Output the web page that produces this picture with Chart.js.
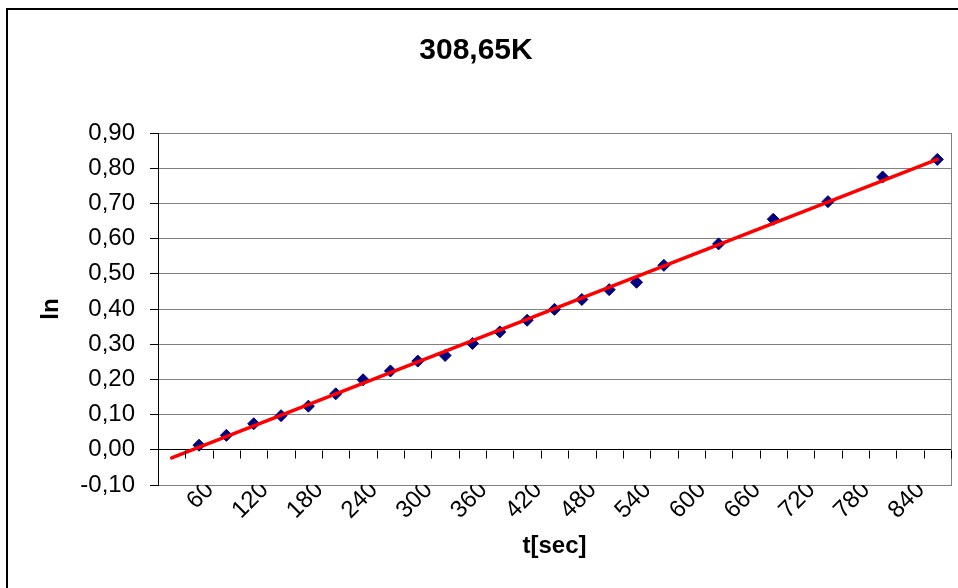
<!DOCTYPE html>
<html>
<head>
<meta charset="utf-8">
<script src="https://cdn.jsdelivr.net/npm/chart.js@4.4.1/dist/chart.umd.min.js"></script>
<style>
body{margin:0;background:#fff;}
</style>
</head>
<body>
<canvas id="lnChart" width="958" height="588"></canvas>
<script>
// categories: time in seconds (one per category slot)
const tSec=[30,60,90,120,150,180,210,240,270,300,330,360,390,420,450,480,510,540,570,600,630,660,690,720,750,780,810,840,870];

// measured ln values (null = no reading in that slot)
const lnVals=[null,0.013,0.041,0.074,0.097,0.124,0.159,0.199,0.224,0.252,0.268,0.302,0.335,0.368,0.399,0.427,0.455,0.476,0.524,null,0.585,null,0.655,null,0.705,null,0.775,null,0.825];

// linear trendline ends (first and last slot)
const trendEnds=[-0.023,0.825];

const yTicks=[-0.1,0,0.1,0.2,0.3,0.4,0.5,0.6,0.7,0.8,0.9];

const FONT="'Liberation Sans', Arial, sans-serif";

let trendData=tSec.map(()=>null);
trendData[0]=trendEnds[0];
trendData[tSec.length-1]=trendEnds[1];

const framePlugin={
id:"frame",
beforeDraw(chart){
let ctx=chart.ctx;
ctx.save();
ctx.fillStyle="#fff";
ctx.fillRect(0,0,chart.width,chart.height);
ctx.strokeStyle="#000";
ctx.lineWidth=2;
ctx.strokeRect(7,9,1000,1000);
ctx.restore();
},
afterDraw(chart){
let ctx=chart.ctx;
let x=chart.scales.x;
let y=chart.scales.y;
let a=chart.chartArea;
ctx.save();
// right border of plot area
ctx.strokeStyle="#808080";
ctx.lineWidth=1;
ctx.beginPath();
ctx.moveTo(Math.round(a.right)+0.5,Math.round(a.top));
ctx.lineTo(Math.round(a.right)+0.5,Math.round(a.bottom)+1);
ctx.stroke();
// tick marks on zero line
let y0=Math.round(y.getPixelForValue(0))+0.5;
ctx.strokeStyle="#000";
ctx.beginPath();
for(let k=1;k<=tSec.length;k++){
let px;
if(k<tSec.length){
px=(x.getPixelForValue(k-1)+x.getPixelForValue(k))/2;
}else{
px=a.right;
}
px=Math.round(px)+0.5;
ctx.moveTo(px,y0);
ctx.lineTo(px,y0+8);
}
ctx.stroke();
ctx.restore();
}
};

new Chart(document.getElementById("lnChart"),{
type:"line",
data:{
labels:tSec,
datasets:[
{
label:"trend",
data:trendData,
borderColor:"#ff0000",
borderWidth:3.5,
pointRadius:0,
spanGaps:true,
tension:0,
borderCapStyle:"round"
},
{
label:"ln",
data:lnVals,
showLine:false,
pointStyle:"rectRot",
pointRadius:6,
pointBackgroundColor:"#000080",
pointBorderColor:"#000080",
pointBorderWidth:1
}
]
},
options:{
responsive:false,
animation:false,
devicePixelRatio:1,
layout:{padding:{left:0,right:6,top:0,bottom:0}},
plugins:{
legend:{display:false},
tooltip:{enabled:false},
title:{
display:true,
text:"308,65K",
color:"#000",
font:{family:FONT,size:30,weight:"bold"},
padding:{top:33,bottom:64}
}
},
scales:{
x:{
type:"category",
offset:true,
grid:{display:false,drawTicks:false,tickLength:0},
border:{display:false},
afterFit(scale){scale.height=103;},
ticks:{
autoSkip:false,
minRotation:45,
maxRotation:45,
labelOffset:11,
padding:-9,
color:"#000",
font:{family:FONT,size:24},
callback:function(v,i){
return tSec[i]%60===0 ? String(tSec[i]) : "";
}
},
title:{
display:true,
text:"t[sec]",
color:"#000",
font:{family:FONT,size:24,weight:"bold"},
padding:{top:0,bottom:27}
}
},
y:{
min:-0.1,
max:0.9,
afterFit(scale){scale.width=158;},
afterBuildTicks(scale){
scale.ticks=yTicks.map(v=>({value:v}));
},
grid:{
color:(c)=>Math.abs(c.tick.value)<1e-9 ? "#000" : "#808080",
lineWidth:1,
tickColor:"#000",
tickLength:8
},
border:{color:"#000",width:1},
ticks:{
padding:15,
color:"#000",
font:{family:FONT,size:24},
callback:(v)=>v.toFixed(2).replace(".",",")
},
title:{
display:true,
text:"ln",
color:"#000",
font:{family:FONT,size:24,weight:"bold"},
padding:{top:37,bottom:0}
}
}
}
},
plugins:[framePlugin]
});
</script>
</body>
</html>
